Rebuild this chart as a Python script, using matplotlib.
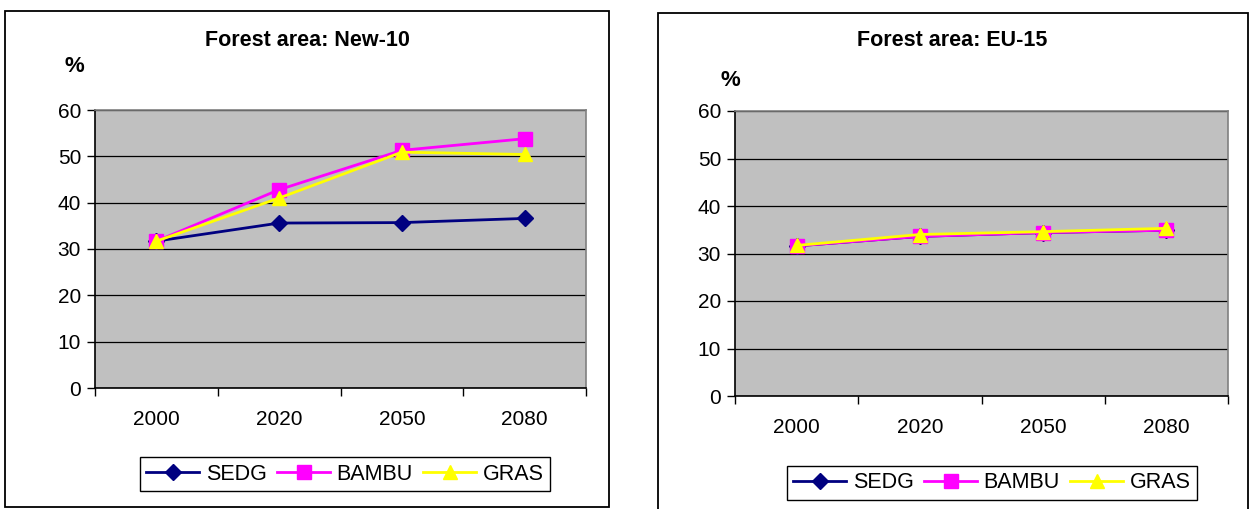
import matplotlib
matplotlib.use("Agg")
import matplotlib.pyplot as plt
from matplotlib.patches import Rectangle

# -----------------------
# DATA
# -----------------------
years = ["2000", "2020", "2050", "2080"]
series_names = ["SEDG", "BAMBU", "GRAS"]

new10_sedg = [31.7, 35.6, 35.7, 36.6]
new10_bambu = [31.7, 42.8, 51.3, 53.8]
new10_gras = [31.7, 41.0, 50.9, 50.4]

eu15_sedg = [31.6, 33.6, 34.4, 34.9]
eu15_bambu = [31.6, 33.6, 34.4, 34.9]
eu15_gras = [31.7, 34.0, 34.6, 35.3]

y_ticks = [0, 10, 20, 30, 40, 50, 60]

# -----------------------
# STYLE
# -----------------------
plt.rcParams["font.family"] = ["Liberation Sans", "DejaVu Sans"]
colors = ["#000080", "#FF00FF", "#FFFF00"]
markers = ["D", "s", "^"]
msizes = [8.5, 10, 10.5]

W, H = 1255, 509
fig = plt.figure(figsize=(W / 100, H / 100), dpi=100)


def px_box(x0, y0, x1, y1):
    # pixel box (top-left origin) -> figure fraction [l, b, w, h]
    return [x0 / W, 1 - y1 / H, (x1 - x0) / W, (y1 - y0) / H]


def draw_panel(box, frame, title, title_xy, pct_xy, legend_xy, data):
    # outer frame
    l, b, w, h = px_box(*frame)
    fig.add_artist(Rectangle((l, b), w, h, transform=fig.transFigure,
                             fill=False, edgecolor="black", linewidth=1.3))
    ax = fig.add_axes(px_box(*box))
    ax.set_facecolor("#C0C0C0")
    x = list(range(len(years)))
    handles = []
    for vals, name, c, m, ms in zip(data, series_names, colors, markers, msizes):
        h_, = ax.plot(x, vals, color=c, marker=m, markersize=ms,
                      linewidth=2, label=name, clip_on=False)
        handles.append(h_)
    ax.set_xlim(-0.5, len(years) - 0.5)
    ax.set_ylim(0, 60)
    ax.set_yticks(y_ticks)
    ax.yaxis.grid(True, color="black", linewidth=0.9)
    ax.set_axisbelow(True)
    # category ticks between labels
    ax.set_xticks([i - 0.5 for i in range(len(years) + 1)])
    ax.set_xticklabels([])
    ax.set_xticks(x, minor=True)
    ax.set_xticklabels(years, minor=True)
    ax.tick_params(axis="x", which="minor", length=0, pad=16, labelsize=15)
    ax.tick_params(axis="x", which="major", length=6, direction="out", width=1)
    ax.tick_params(axis="y", length=6, direction="out", width=1, pad=4, labelsize=15)
    ax.spines["left"].set_color("black")
    ax.spines["bottom"].set_color("black")
    ax.spines["top"].set_color("#808080")
    ax.spines["right"].set_color("#808080")
    for s in ax.spines.values():
        s.set_linewidth(1.2)

    fig.text(title_xy[0] / W, 1 - title_xy[1] / H, title, ha="center",
             va="center", fontsize=15.5, fontweight="bold")
    fig.text(pct_xy[0] / W, 1 - pct_xy[1] / H, "%", ha="center",
             va="center", fontsize=16, fontweight="bold")

    leg = ax.legend(handles=handles, loc="center", ncol=3,
                    bbox_to_anchor=(legend_xy[0] / W, 1 - legend_xy[1] / H),
                    bbox_transform=fig.transFigure, fontsize=15.5,
                    frameon=True, fancybox=False, framealpha=1,
                    edgecolor="black", handlelength=2.45, handletextpad=0.3,
                    columnspacing=0.5, borderpad=0.3)
    leg.get_frame().set_linewidth(1.0)
    return ax


# -----------------------
# PANELS
# -----------------------
draw_panel((95, 110, 586, 388), (5, 11, 609, 507),
           "Forest area: New-10", (307, 40), (74, 67), (345, 474),
           [new10_sedg, new10_bambu, new10_gras])

draw_panel((735, 111, 1228, 396), (658, 13, 1248, 512),
           "Forest area: EU-15", (952, 41), (730, 80), (992, 483),
           [eu15_sedg, eu15_bambu, eu15_gras])

plt.savefig("out.png", dpi=100)
